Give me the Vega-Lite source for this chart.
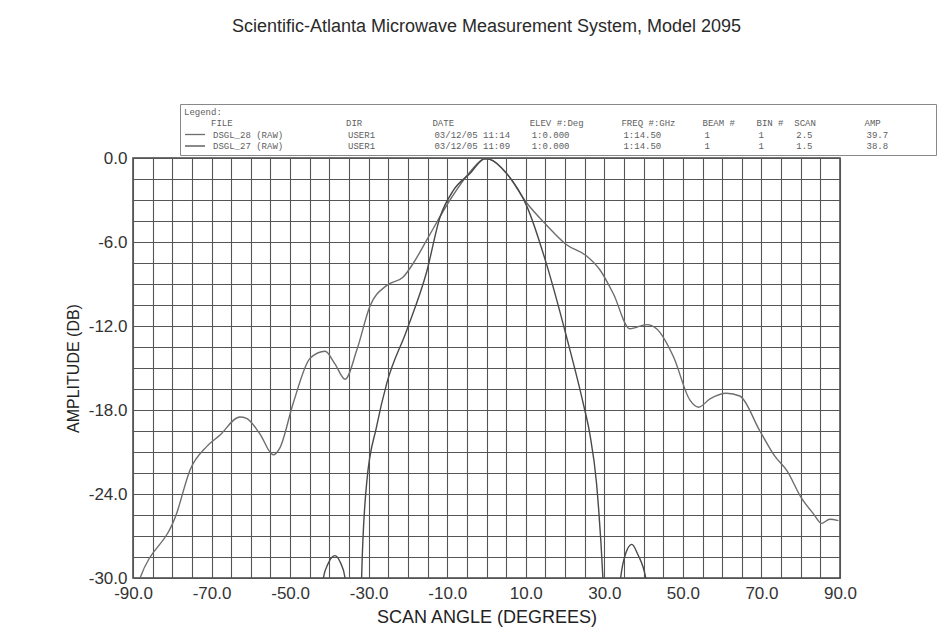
{
  "$schema": "https://vega.github.io/schema/vega-lite/v6.json",
  "width": 707,
  "height": 420,
  "autosize": {"type": "none"},
  "padding": {"left": 133, "top": 158, "right": 112, "bottom": 63},
  "background": "#ffffff",
  "title": {
    "text": "Scientific-Atlanta Microwave Measurement System, Model 2095",
    "font": "Liberation Sans",
    "fontSize": 18,
    "fontWeight": "normal",
    "color": "#2a2a2a",
    "anchor": "middle",
    "frame": "group",
    "offset": 68
  },
  "config": {
    "view": {"stroke": "#444444", "strokeWidth": 1.5},
    "axis": {
      "labelFont": "Liberation Sans",
      "labelFontSize": 17,
      "labelColor": "#333333",
      "titleFont": "Liberation Sans",
      "titleFontWeight": "normal",
      "titleColor": "#222222",
      "gridColor": "#555555",
      "gridWidth": 1.1,
      "gridOpacity": 1,
      "domain": false,
      "ticks": false,
      "labelOverlap": false,
      "labelFlush": false
    }
  },
  "data": {
    "values": [
      {"file": "DSGL_28", "angle": -90, "amp": -31.5},
      {"file": "DSGL_28", "angle": -88.2, "amp": -30},
      {"file": "DSGL_28", "angle": -78.9, "amp": -25.4},
      {"file": "DSGL_28", "angle": -75.5, "amp": -22.3},
      {"file": "DSGL_28", "angle": -71.2, "amp": -20.6},
      {"file": "DSGL_28", "angle": -67.9, "amp": -19.8},
      {"file": "DSGL_28", "angle": -62.8, "amp": -18.5},
      {"file": "DSGL_28", "angle": -61.1, "amp": -18.6},
      {"file": "DSGL_28", "angle": -57.7, "amp": -19.7},
      {"file": "DSGL_28", "angle": -54.3, "amp": -21.2},
      {"file": "DSGL_28", "angle": -52.6, "amp": -20.7},
      {"file": "DSGL_28", "angle": -49.2, "amp": -17.5},
      {"file": "DSGL_28", "angle": -44.9, "amp": -14.3},
      {"file": "DSGL_28", "angle": -41.1, "amp": -13.8},
      {"file": "DSGL_28", "angle": -38.6, "amp": -14.7},
      {"file": "DSGL_28", "angle": -36.0, "amp": -15.8},
      {"file": "DSGL_28", "angle": -33.0, "amp": -13.7},
      {"file": "DSGL_28", "angle": -29.7, "amp": -10.6},
      {"file": "DSGL_28", "angle": -25.4, "amp": -9.1},
      {"file": "DSGL_28", "angle": -21.2, "amp": -8.5},
      {"file": "DSGL_28", "angle": -18.6, "amp": -7.5},
      {"file": "DSGL_28", "angle": -15.3, "amp": -5.9},
      {"file": "DSGL_28", "angle": -9.3, "amp": -3.0},
      {"file": "DSGL_28", "angle": -4.2, "amp": -1.0},
      {"file": "DSGL_28", "angle": -0.4, "amp": -0.05},
      {"file": "DSGL_28", "angle": 0.9, "amp": -0.1},
      {"file": "DSGL_28", "angle": 5.1, "amp": -1.1},
      {"file": "DSGL_28", "angle": 10.2, "amp": -3.2},
      {"file": "DSGL_28", "angle": 15.3, "amp": -4.8},
      {"file": "DSGL_28", "angle": 20.4, "amp": -6.2},
      {"file": "DSGL_28", "angle": 25.5, "amp": -7.0},
      {"file": "DSGL_28", "angle": 28.9, "amp": -8.0},
      {"file": "DSGL_28", "angle": 32.3, "amp": -9.7},
      {"file": "DSGL_28", "angle": 36.5, "amp": -12.2},
      {"file": "DSGL_28", "angle": 40.8, "amp": -11.9},
      {"file": "DSGL_28", "angle": 43.3, "amp": -12.2},
      {"file": "DSGL_28", "angle": 47.6, "amp": -14.2},
      {"file": "DSGL_28", "angle": 51.8, "amp": -17.3},
      {"file": "DSGL_28", "angle": 54.0, "amp": -17.8},
      {"file": "DSGL_28", "angle": 56.9, "amp": -17.2},
      {"file": "DSGL_28", "angle": 61.1, "amp": -16.8},
      {"file": "DSGL_28", "angle": 64.5, "amp": -17.0},
      {"file": "DSGL_28", "angle": 69.6, "amp": -19.5},
      {"file": "DSGL_28", "angle": 73.4, "amp": -21.3},
      {"file": "DSGL_28", "angle": 76.4, "amp": -22.3},
      {"file": "DSGL_28", "angle": 80.2, "amp": -24.3},
      {"file": "DSGL_28", "angle": 83.2, "amp": -25.4},
      {"file": "DSGL_28", "angle": 85.3, "amp": -26.1},
      {"file": "DSGL_28", "angle": 87.4, "amp": -25.8},
      {"file": "DSGL_28", "angle": 89.6, "amp": -25.9},
      {"file": "DSGL_27", "angle": -43, "amp": -34},
      {"file": "DSGL_27", "angle": -41.6, "amp": -30.1},
      {"file": "DSGL_27", "angle": -40.2, "amp": -28.9},
      {"file": "DSGL_27", "angle": -38.6, "amp": -28.4},
      {"file": "DSGL_27", "angle": -37.2, "amp": -28.9},
      {"file": "DSGL_27", "angle": -36.0, "amp": -30},
      {"file": "DSGL_27", "angle": -35.0, "amp": -33},
      {"file": "DSGL_27", "angle": -33.0, "amp": -38},
      {"file": "DSGL_27", "angle": -32.0, "amp": -33},
      {"file": "DSGL_27", "angle": -31.8, "amp": -30},
      {"file": "DSGL_27", "angle": -30.5, "amp": -23.2},
      {"file": "DSGL_27", "angle": -28.0, "amp": -19.2},
      {"file": "DSGL_27", "angle": -25.4, "amp": -16.1},
      {"file": "DSGL_27", "angle": -20.3, "amp": -12.3},
      {"file": "DSGL_27", "angle": -15.3, "amp": -8.2},
      {"file": "DSGL_27", "angle": -11.8, "amp": -4.2},
      {"file": "DSGL_27", "angle": -8.4, "amp": -2.3},
      {"file": "DSGL_27", "angle": -4.2, "amp": -1.1},
      {"file": "DSGL_27", "angle": -0.4, "amp": -0.05},
      {"file": "DSGL_27", "angle": 0.9, "amp": -0.1},
      {"file": "DSGL_27", "angle": 5.1, "amp": -1.1},
      {"file": "DSGL_27", "angle": 10.2, "amp": -3.4},
      {"file": "DSGL_27", "angle": 15.3, "amp": -7.6},
      {"file": "DSGL_27", "angle": 20.4, "amp": -12.8},
      {"file": "DSGL_27", "angle": 24.6, "amp": -17.5},
      {"file": "DSGL_27", "angle": 26.3, "amp": -19.7},
      {"file": "DSGL_27", "angle": 28.0, "amp": -23.2},
      {"file": "DSGL_27", "angle": 29.7, "amp": -30.4},
      {"file": "DSGL_27", "angle": 30.5, "amp": -36},
      {"file": "DSGL_27", "angle": 32.5, "amp": -38},
      {"file": "DSGL_27", "angle": 34.0, "amp": -30.4},
      {"file": "DSGL_27", "angle": 35.5, "amp": -28.2},
      {"file": "DSGL_27", "angle": 37.0, "amp": -27.6},
      {"file": "DSGL_27", "angle": 38.5, "amp": -28.3},
      {"file": "DSGL_27", "angle": 40.8, "amp": -30.4},
      {"file": "DSGL_27", "angle": 42.0, "amp": -34}
    ]
  },
  "mark": {"type": "line", "clip": true, "strokeWidth": 1.4, "interpolate": "monotone"},
  "encoding": {
    "x": {
      "field": "angle",
      "type": "quantitative",
      "scale": {"domain": [-90, 90], "nice": false, "zero": false},
      "axis": {
        "title": "SCAN ANGLE (DEGREES)",
        "titleFontSize": 18,
        "values": [-90,-85,-80,-75,-70,-65,-60,-55,-50,-45,-40,-35,-30,-25,-20,-15,-10,-5,0,5,10,15,20,25,30,35,40,45,50,55,60,65,70,75,80,85,90],
        "labelExpr": "(datum.value + 90) % 20 == 0 ? datum.value + '.0' : ''",
        "labelPadding": 7,
        "titlePadding": 7
      }
    },
    "y": {
      "field": "amp",
      "type": "quantitative",
      "scale": {"domain": [-30, 0], "nice": false, "zero": false},
      "axis": {
        "title": "AMPLITUDE (DB)",
        "titleFontSize": 16,
        "values": [-30,-28.5,-27,-25.5,-24,-22.5,-21,-19.5,-18,-16.5,-15,-13.5,-12,-10.5,-9,-7.5,-6,-4.5,-3,-1.5,0],
        "labelExpr": "datum.value % 6 == 0 ? (datum.value == 0 ? '0.0' : datum.value + '.0') : ''",
        "labelPadding": 6,
        "titlePadding": 7
      }
    },
    "color": {
      "field": "file",
      "type": "nominal",
      "scale": {"domain": ["DSGL_28", "DSGL_27"], "range": ["#6e6e6e", "#4a4a4a"]},
      "legend": {
        "orient": "none",
        "legendX": 47,
        "legendY": -54,
        "title": ["Legend:", "\u200b\u00a0\u00a0\u00a0\u00a0\u00a0FILE\u00a0\u00a0\u00a0\u00a0\u00a0\u00a0\u00a0\u00a0\u00a0\u00a0\u00a0\u00a0\u00a0\u00a0\u00a0\u00a0\u00a0\u00a0\u00a0\u00a0\u00a0DIR\u00a0\u00a0\u00a0\u00a0\u00a0\u00a0\u00a0\u00a0\u00a0\u00a0\u00a0\u00a0\u00a0DATE\u00a0\u00a0\u00a0\u00a0\u00a0\u00a0\u00a0\u00a0\u00a0\u00a0\u00a0\u00a0\u00a0\u00a0ELEV\u00a0#:Deg\u00a0\u00a0\u00a0\u00a0\u00a0\u00a0\u00a0FREQ\u00a0#:GHz\u00a0\u00a0\u00a0\u00a0\u00a0BEAM\u00a0#\u00a0\u00a0\u00a0\u00a0BIN\u00a0#\u00a0\u00a0SCAN\u00a0\u00a0\u00a0\u00a0\u00a0\u00a0\u00a0\u00a0\u00a0AMP"],
        "labelExpr": "datum.label == 'DSGL_28' ? 'DSGL_28\u00a0(RAW)\u00a0\u00a0\u00a0\u00a0\u00a0\u00a0\u00a0\u00a0\u00a0\u00a0\u00a0\u00a0USER1\u00a0\u00a0\u00a0\u00a0\u00a0\u00a0\u00a0\u00a0\u00a0\u00a0\u00a003/12/05\u00a011:14\u00a0\u00a0\u00a0\u00a01:0.000\u00a0\u00a0\u00a0\u00a0\u00a0\u00a0\u00a0\u00a0\u00a0\u00a01:14.50\u00a0\u00a0\u00a0\u00a0\u00a0\u00a0\u00a0\u00a01\u00a0\u00a0\u00a0\u00a0\u00a0\u00a0\u00a0\u00a0\u00a01\u00a0\u00a0\u00a0\u00a0\u00a0\u00a02.5\u00a0\u00a0\u00a0\u00a0\u00a0\u00a0\u00a0\u00a0\u00a0\u00a039.7\u00a0\u00a0\u00a0\u00a0\u00a0\u00a0\u00a0\u00a0\u200b' : 'DSGL_27\u00a0(RAW)\u00a0\u00a0\u00a0\u00a0\u00a0\u00a0\u00a0\u00a0\u00a0\u00a0\u00a0\u00a0USER1\u00a0\u00a0\u00a0\u00a0\u00a0\u00a0\u00a0\u00a0\u00a0\u00a0\u00a003/12/05\u00a011:09\u00a0\u00a0\u00a0\u00a01:0.000\u00a0\u00a0\u00a0\u00a0\u00a0\u00a0\u00a0\u00a0\u00a0\u00a01:14.50\u00a0\u00a0\u00a0\u00a0\u00a0\u00a0\u00a0\u00a01\u00a0\u00a0\u00a0\u00a0\u00a0\u00a0\u00a0\u00a0\u00a01\u00a0\u00a0\u00a0\u00a0\u00a0\u00a01.5\u00a0\u00a0\u00a0\u00a0\u00a0\u00a0\u00a0\u00a0\u00a0\u00a038.8\u00a0\u00a0\u00a0\u00a0\u00a0\u00a0\u00a0\u00a0\u200b'",
        "titleFont": "Liberation Mono",
        "titleFontSize": 9,
        "titleFontWeight": "normal",
        "titleColor": "#606060",
        "titleLineHeight": 10.5,
        "titleLimit": 2000,
        "titlePadding": 1,
        "labelFont": "Liberation Mono",
        "labelFontSize": 9,
        "labelColor": "#606060",
        "labelLimit": 2000,
        "labelOffset": 17,
        "symbolType": "M-1,0H3",
        "symbolSize": 100,
        "symbolStrokeWidth": 1.3,
        "rowPadding": 0.5,
        "padding": 4,
        "strokeColor": "#888888",
        "fillColor": "#ffffff"
      }
    }
  }
}
